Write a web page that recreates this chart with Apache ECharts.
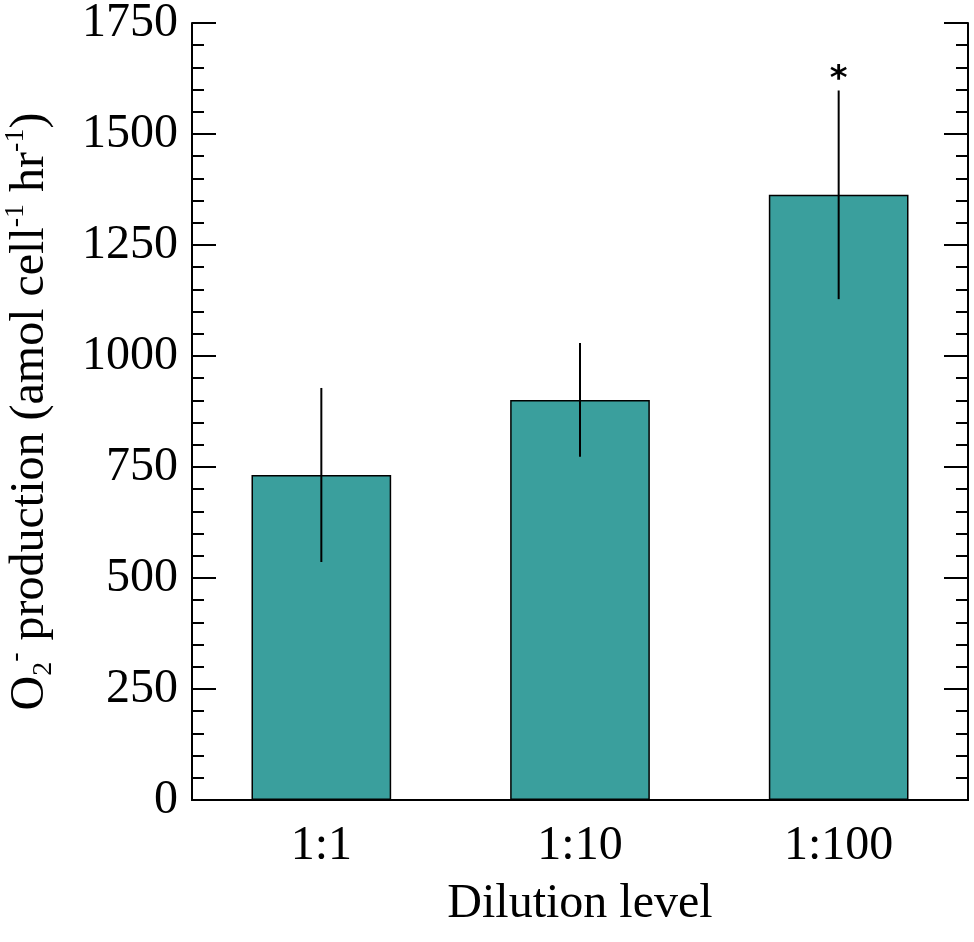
<!DOCTYPE html>
<html>
<head>
<meta charset="utf-8">
<script src="https://cdn.jsdelivr.net/npm/echarts@6/dist/echarts.min.js"></script>
<style>
    html, body {margin: 0; padding: 0; background: #fff;}
    #chart {width: 974px; height: 942px;}
</style>
</head>
<body>
<div id="chart"></div>
<script>
// data
var categories = ['1:1', '1:10', '1:100'];
var means = [732, 901, 1363];
var errors = [196, 128, 235];
var marks = ['', '', '*'];

var font = 'Liberation Serif';
var barColor = '#3a9f9d';

var errData = [];
for (var i = 0; i < categories.length; i++) {
    errData.push([i, means[i] - errors[i], means[i] + errors[i], marks[i]]);
}

var chart = echarts.init(document.getElementById('chart'));

var opt = {
    animation: false,
    textStyle: {fontFamily: font, color: '#000'},
    grid: {left: 192, right: 6, top: 23, bottom: 142, outerBoundsMode: 'none', containLabel: false},
    xAxis: [
        {
            type: 'category',
            data: categories,
            position: 'bottom',
            axisLine: {lineStyle: {color: '#000', width: 2}},
            axisTick: {show: false},
            axisLabel: {fontFamily: font, fontSize: 48, color: '#000', margin: 22},
            name: 'Dilution level',
            nameLocation: 'middle',
            nameGap: 80,
            nameTextStyle: {fontFamily: font, fontSize: 48, color: '#000'}
        },
        {
            type: 'category',
            data: categories,
            position: 'top',
            axisLine: {lineStyle: {color: '#000', width: 2}},
            axisTick: {show: false},
            axisLabel: {show: false}
        }
    ],
    yAxis: [
        {
            type: 'value',
            min: 0,
            max: 1750,
            interval: 250,
            position: 'left',
            axisLine: {show: true, lineStyle: {color: '#000', width: 2}},
            axisTick: {show: true, inside: true, length: 24, lineStyle: {color: '#000', width: 2}},
            minorTick: {show: true, splitNumber: 5, length: 12, lineStyle: {color: '#000', width: 2}},
            splitLine: {show: false},
            axisLabel: {
                fontFamily: font, fontSize: 48, color: '#000', margin: 14,
                formatter: function (v) { return String(v); }
            },
            name: '{m|O}{sub|2}{sup|-}{m| production (amol cell}{sup|-1}{m| hr}{sup|-1}{m|)}',
            nameLocation: 'middle',
            nameRotate: 90,
            nameGap: 134,
            nameTextStyle: {
                fontFamily: font,
                color: '#000',
                rich: {
                    m: {fontFamily: font, fontSize: 48, lineHeight: 56, color: '#000', verticalAlign: 'middle'},
                    sub: {fontFamily: font, fontSize: 28, lineHeight: 56, color: '#000', verticalAlign: 'bottom'},
                    sup: {fontFamily: font, fontSize: 28, lineHeight: 56, color: '#000', verticalAlign: 'top'}
                }
            }
        },
        {
            type: 'value',
            min: 0,
            max: 1750,
            interval: 250,
            position: 'right',
            axisLine: {show: true, lineStyle: {color: '#000', width: 2}},
            axisTick: {show: true, inside: true, length: 24, lineStyle: {color: '#000', width: 2}},
            minorTick: {show: true, splitNumber: 5, length: 12, lineStyle: {color: '#000', width: 2}},
            splitLine: {show: false},
            axisLabel: {show: false}
        }
    ],
    series: [
        {
            type: 'bar',
            data: means,
            barWidth: '54%',
            itemStyle: {color: barColor, borderColor: '#000', borderWidth: 1.5},
            z: 2
        },
        {
            type: 'custom',
            data: errData,
            z: 3,
            renderItem: function (params, api) {
                var lo = api.coord([api.value(0), api.value(1)]);
                var hi = api.coord([api.value(0), api.value(2)]);
                var children = [{
                    type: 'line',
                    shape: {x1: lo[0], y1: lo[1], x2: hi[0], y2: hi[1]},
                    style: {stroke: '#000', lineWidth: 2}
                }];
                var mk = errData[params.dataIndex][3];
                if (mk) {
                    children.push({
                        type: 'text',
                        style: {
                            text: mk, x: hi[0], y: hi[1] + 7,
                            align: 'center', verticalAlign: 'bottom',
                            fontFamily: 'DejaVu Sans', fontSize: 34, fontWeight: 'bold', fill: '#000'
                        }
                    });
                }
                return {type: 'group', children: children};
            }
        }
    ]
};

chart.setOption(opt);
</script>
</body>
</html>
